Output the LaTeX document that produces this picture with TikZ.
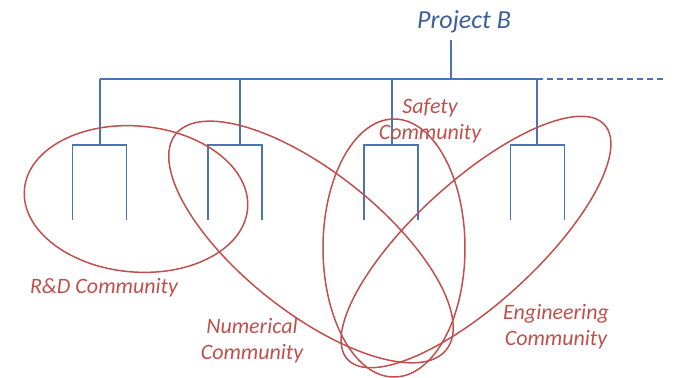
\documentclass[tikz,border=0pt]{standalone}
\usepackage{fontspec}
\setmainfont{Carlito}
\usetikzlibrary{positioning,calc}
\definecolor{treeblue}{HTML}{4A75B5}
\definecolor{projblue}{HTML}{3D5F99}
\definecolor{groupred}{HTML}{C0504D}

\begin{document}
\begin{tikzpicture}[x=1pt,y=-1pt,
    tree/.style={draw=treeblue, line width=1.7pt},
    group/.style={draw=groupred, line width=1.5pt},
    comm/.style={text=groupred, align=center, inner sep=0pt,
        font=\fontsize{22}{26}\selectfont\itshape}]
    \useasboundingbox (0,0) rectangle (673,378);
    \def\half{27} % Define half the width of a bracket

    \node (proj) at (464,22) [text=projblue, inner sep=0pt,
        font=\fontsize{26}{30}\selectfont\itshape] {Project B};
    \coordinate (stem) at (451,40);
    \coordinate (hub) at (451,79);
    \coordinate (busend) at (663,79);

    \foreach \i/\x/\c in {1/100/99.5, 2/240/235, 3/392/391, 4/537/537.5}
    {
        \coordinate (D\i) at (\x,79);
        \coordinate (B\i) at (\x,145);
        \coordinate (L\i) at (\c-\half,220);
        \coordinate (R\i) at (\c+\half,220);
        \draw[tree] (D\i) -- (B\i);
        \draw[tree] (L\i) |- (B\i) -| (R\i);
    }

    \draw[tree] (stem) -- (hub);
    \draw[tree] (D1) -- (D4);
    \draw[tree, dash pattern=on 6pt off 4pt] (D4) -- (busend);

    % communities
    \coordinate (rd) at (136,199);
    \coordinate (safe) at (394,248);
    \coordinate (num) at (311,242);
    \coordinate (eng) at (476,242);

    \draw[group, rotate around={-5:(rd)}] (rd) ellipse [x radius=112, y radius=73];
    \draw[group] (safe) ellipse [x radius=71, y radius=129];
    \draw[group, rotate around={-38.5:(num)}] (num) ellipse [x radius=173, y radius=70];
    \draw[group, rotate around={42.4:(eng)}] (eng) ellipse [x radius=174, y radius=61];

    \node[comm] (safetext) at (430,121) {Safety\\Community};
    \node[comm] (rdtext) at (104,288) {R\&D Community};
    \node[comm] (numtext) at (252,341) {Numerical\\Community};
    \node[comm] (engtext) at (556,327) {Engineering\\Community};
\end{tikzpicture}
\end{document}
